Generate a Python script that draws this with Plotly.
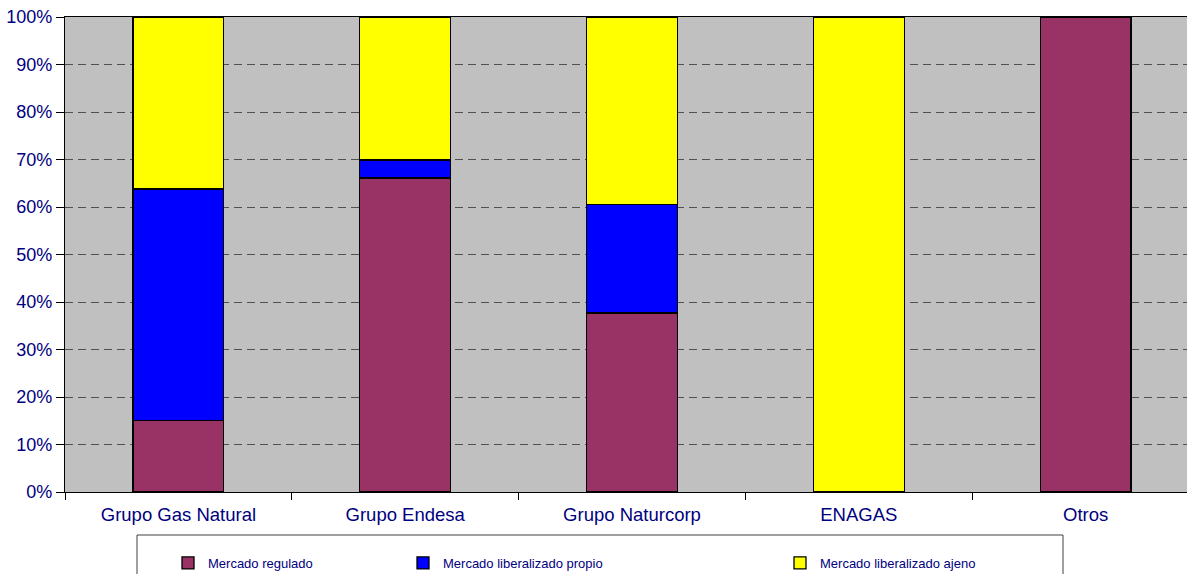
import plotly.graph_objects as go

categories = ["Grupo Gas Natural", "Grupo Endesa", "Grupo Naturcorp", "ENAGAS", "Otros"]
regulado = [15.0, 66.1, 37.7, 0.0, 100.0]
lib_propio = [48.8, 3.8, 22.9, 0.0, 0.0]
lib_ajeno = [36.2, 30.1, 39.4, 100.0, 0.0]
series_names = ["Mercado regulado", "Mercado liberalizado propio", "Mercado liberalizado ajeno"]
series_values = [regulado, lib_propio, lib_ajeno]
colors = ["#993366", "#0000FF", "#FFFF00"]
tick_vals = [0, 10, 20, 30, 40, 50, 60, 70, 80, 90, 100]
tick_text = [f"{v}%" for v in tick_vals]

# the original chart's plot area runs past the right edge of the picture
W, H = 1199, 574
ML, MR, MT, MB = 65, 0, 17, 574 - 492
PW = W - ML - MR
PH = H - MT - MB

def px_x(p):
    return (p - ML) / PW

def px_y(p):
    return (H - MB - p) / PH

FONT = "Liberation Sans, Arial, sans-serif"
NAVY = "#000080"

fig = go.Figure()
legend_ids = ["legend", "legend2", "legend3"]
for name, vals, col, lid in zip(series_names, series_values, colors, legend_ids):
    fig.add_trace(go.Bar(
        x=categories, y=vals, name=name, legend=lid,
        marker=dict(color=col, line=dict(color="#000000", width=1.3)),
        width=0.4,
    ))

legend_text_px = [208, 443, 820]
leg_common = dict(
    yanchor="middle", y=px_y(563), xanchor="left",
    bgcolor="rgba(0,0,0,0)", borderwidth=0,
    font=dict(family=FONT, size=13, color=NAVY),
    orientation="h",
)
legends = {}
for lid, tx in zip(legend_ids, legend_text_px):
    legends[lid] = dict(x=px_x(tx - 40), **leg_common)

fig.update_layout(
    width=W, height=H,
    margin=dict(l=ML, r=MR, t=MT, b=MB, autoexpand=False),
    paper_bgcolor="#FFFFFF",
    plot_bgcolor="#C0C0C0",
    barmode="stack",
    bargap=0.6,
    showlegend=True,
    **legends,
    xaxis=dict(
        showline=True, linecolor="#000000", linewidth=1.3, mirror=True,
        ticks="outside", tickson="boundaries", ticklen=7, tickcolor="#000000",
        tickfont=dict(family=FONT, size=18.5, color=NAVY),
        ticklabelstandoff=6,
        showgrid=False,
    ),
    yaxis=dict(
        range=[0, 100], tickvals=tick_vals, ticktext=tick_text,
        showline=True, linecolor="#000000", linewidth=1.3,
        ticks="outside", ticklen=8, tickcolor="#000000",
        tickfont=dict(family=FONT, size=18, color=NAVY),
        ticklabeloverflow="allow",
        showgrid=True, gridcolor="#505050", gridwidth=1, griddash="8px,5px",
        zeroline=False,
    ),
    shapes=[dict(
        type="rect", xref="paper", yref="paper",
        x0=px_x(137), x1=px_x(1063), y0=px_y(535), y1=px_y(590),
        line=dict(color="#404040", width=1), fillcolor="rgba(0,0,0,0)",
        layer="below",
    )],
)

fig.write_html(
    "out.html",
    config={"displayModeBar": False},
    post_script="document.body.style.margin='0';document.body.style.overflow='hidden';",
)
